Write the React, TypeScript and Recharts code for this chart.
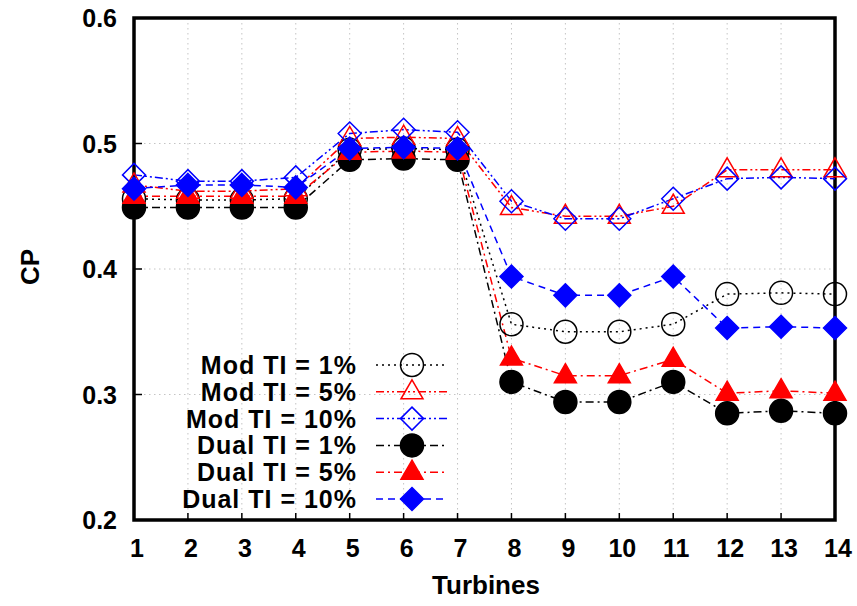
import React from 'react';
import { LineChart, Line, XAxis, YAxis, CartesianGrid, Legend, ReferenceArea } from 'recharts';

const turbines = [1, 2, 3, 4, 5, 6, 7, 8, 9, 10, 11, 12, 13, 14];
const mod1 = [0.456, 0.455, 0.455, 0.456, 0.495, 0.496, 0.495, 0.356, 0.350, 0.350, 0.356, 0.380, 0.381, 0.380];
const mod5 = [0.467, 0.462, 0.462, 0.464, 0.504, 0.505, 0.504, 0.449, 0.442, 0.442, 0.450, 0.479, 0.479, 0.479];
const mod10 = [0.475, 0.470, 0.470, 0.473, 0.508, 0.511, 0.509, 0.454, 0.440, 0.440, 0.456, 0.472, 0.473, 0.472];
const dual1 = [0.449, 0.449, 0.449, 0.449, 0.487, 0.488, 0.487, 0.310, 0.294, 0.294, 0.310, 0.285, 0.287, 0.285];
const dual5 = [0.458, 0.458, 0.458, 0.458, 0.493, 0.494, 0.493, 0.329, 0.315, 0.315, 0.328, 0.301, 0.303, 0.301];
const dual10 = [0.464, 0.467, 0.467, 0.465, 0.496, 0.497, 0.496, 0.394, 0.379, 0.379, 0.394, 0.353, 0.354, 0.353];
const yTicks = [0.2, 0.3, 0.4, 0.5, 0.6];

type Shape = 'circle' | 'triangle' | 'diamond';

const series: { key: string; name: string; color: string; dash: string; shape: Shape; filled: boolean }[] = [
    { key: 'mod1', name: 'Mod TI = 1%', color: '#000000', dash: '2 4', shape: 'circle', filled: false },
    { key: 'mod5', name: 'Mod TI = 5%', color: '#ff0000', dash: '8 3 2 3 2 3', shape: 'triangle', filled: false },
    { key: 'mod10', name: 'Mod TI = 10%', color: '#0000ff', dash: '8 3 2 3 2 3', shape: 'diamond', filled: false },
    { key: 'dual1', name: 'Dual TI = 1%', color: '#000000', dash: '8 4 2 4', shape: 'circle', filled: true },
    { key: 'dual5', name: 'Dual TI = 5%', color: '#ff0000', dash: '8 4 2 4', shape: 'triangle', filled: true },
    { key: 'dual10', name: 'Dual TI = 10%', color: '#0000ff', dash: '7 5', shape: 'diamond', filled: true },
];

const data = turbines.map((t, i) => ({
    turbine: t,
    mod1: mod1[i],
    mod5: mod5[i],
    mod10: mod10[i],
    dual1: dual1[i],
    dual5: dual5[i],
    dual10: dual10[i],
}));

const FONT = '"Liberation Sans", Arial, Helvetica, sans-serif';

function markerPath(shape: Shape, cx: number, cy: number) {
    if (shape === 'triangle') {
        return `M${cx},${cy - 12} L${cx + 11},${cy + 7} L${cx - 11},${cy + 7} Z`;
    }
    if (shape === 'diamond') {
        return `M${cx},${cy - 11.5} L${cx + 11.5},${cy} L${cx},${cy + 11.5} L${cx - 11.5},${cy} Z`;
    }
    return `M${cx - 11.5},${cy} a11.5,11.5 0 1,0 23,0 a11.5,11.5 0 1,0 -23,0 Z`;
}

function Marker({ cx, cy, s }: { cx: number; cy: number; s: (typeof series)[number] }) {
    return (
        <path
            d={markerPath(s.shape, cx, cy)}
            fill={s.filled ? s.color : 'none'}
            stroke={s.color}
            strokeWidth={1.5}
        />
    );
}

const BottomTick = (props: any) => {
    const { x, y, payload } = props;
    return (
        <g>
            <line x1={x} x2={x} y1={y} y2={y - 7} stroke="#000" strokeWidth={1.5} />
            <text x={x + 3} y={y + 28} textAnchor="middle" dominantBaseline="central"
                fontFamily={FONT} fontWeight="bold" fontSize={25} fill="#000">
                {payload.value}
            </text>
        </g>
    );
};

const TopTick = (props: any) => {
    const { x, y } = props;
    return <line x1={x} x2={x} y1={y} y2={y + 7} stroke="#000" strokeWidth={1.5} />;
};

const LeftTick = (props: any) => {
    const { x, y, payload } = props;
    return (
        <g>
            <line x1={x} x2={x + 8} y1={y} y2={y} stroke="#000" strokeWidth={1.5} />
            <text x={x - 17} y={y} textAnchor="end" dominantBaseline="central"
                fontFamily={FONT} fontWeight="bold" fontSize={25} fill="#000">
                {Number(payload.value).toFixed(1)}
            </text>
        </g>
    );
};

const RightTick = (props: any) => {
    const { x, y } = props;
    return <line x1={x} x2={x - 8} y1={y} y2={y} stroke="#000" strokeWidth={1.5} />;
};

const LegendBox = () => (
    <svg width={460} height={170}>
        {series.map((s, i) => {
            const cy = 14 + i * 26.8;
            return (
                <g key={s.key}>
                    <text x={357} y={cy} textAnchor="end" dominantBaseline="central"
                        fontFamily={FONT} fontWeight="bold" fontSize={25} letterSpacing={1} fill="#000">
                        {s.name}
                    </text>
                    <line x1={376} x2={447} y1={cy} y2={cy} stroke={s.color}
                        strokeWidth={1.5} strokeDasharray={s.dash} />
                    <Marker cx={412} cy={cy} s={s} />
                </g>
            );
        })}
    </svg>
);

export default function App() {
    return (
        <div style={{ position: 'absolute', left: 0, top: 0, width: 857, height: 606, background: '#fff' }}>
            <LineChart
                width={857}
                height={606}
                data={data}
                margin={{ top: 18, right: 22, bottom: 0, left: 0 }}
            >
                <CartesianGrid stroke="#c4c4c4" strokeDasharray="1.5 3.5" />
                <XAxis
                    dataKey="turbine"
                    type="number"
                    domain={[1, 14]}
                    ticks={turbines}
                    height={86}
                    axisLine={false}
                    tickLine={false}
                    tickSize={0}
                    tickMargin={0}
                    tick={BottomTick}
                    interval={0}
                />
                <XAxis
                    xAxisId="top"
                    orientation="top"
                    dataKey="turbine"
                    type="number"
                    domain={[1, 14]}
                    ticks={turbines}
                    height={0}
                    axisLine={false}
                    tickLine={false}
                    tickSize={0}
                    tickMargin={0}
                    tick={TopTick}
                    interval={0}
                />
                <YAxis
                    domain={[0.2, 0.6]}
                    ticks={yTicks}
                    width={134}
                    axisLine={false}
                    tickLine={false}
                    tickSize={0}
                    tickMargin={0}
                    tick={LeftTick}
                    interval={0}
                    label={{
                        content: () => (
                            <text x={30} y={267} textAnchor="middle" dominantBaseline="central"
                                transform="rotate(-90, 30, 267)"
                                fontFamily={FONT} fontWeight="bold" fontSize={26} fill="#000">
                                CP
                            </text>
                        ),
                    }}
                />
                <YAxis
                    yAxisId="right"
                    orientation="right"
                    domain={[0.2, 0.6]}
                    ticks={yTicks}
                    width={0}
                    axisLine={false}
                    tickLine={false}
                    tickSize={0}
                    tickMargin={0}
                    tick={RightTick}
                    interval={0}
                />
                {series.map((s) => (
                    <Line
                        key={s.key}
                        dataKey={s.key}
                        name={s.name}
                        type="linear"
                        stroke={s.color}
                        strokeWidth={1.5}
                        strokeDasharray={s.dash}
                        isAnimationActive={false}
                        dot={(p: any) => <Marker key={`${s.key}-${p.index}`} cx={p.cx} cy={p.cy} s={s} />}
                        activeDot={false}
                    />
                ))}
                <ReferenceArea
                    x1={1}
                    x2={14}
                    y1={0.2}
                    y2={0.6}
                    fill="none"
                    fillOpacity={0}
                    stroke="#000"
                    strokeWidth={3.5}
                    ifOverflow="visible"
                />
                <Legend
                    layout="vertical"
                    align="center"
                    verticalAlign="middle"
                    content={LegendBox}
                    wrapperStyle={{ left: 0, top: 351, width: 460, height: 170 }}
                />
                <text x={486} y={585} textAnchor="middle" dominantBaseline="central"
                    fontFamily={FONT} fontWeight="bold" fontSize={26} fill="#000">
                    Turbines
                </text>
            </LineChart>
        </div>
    );
}
